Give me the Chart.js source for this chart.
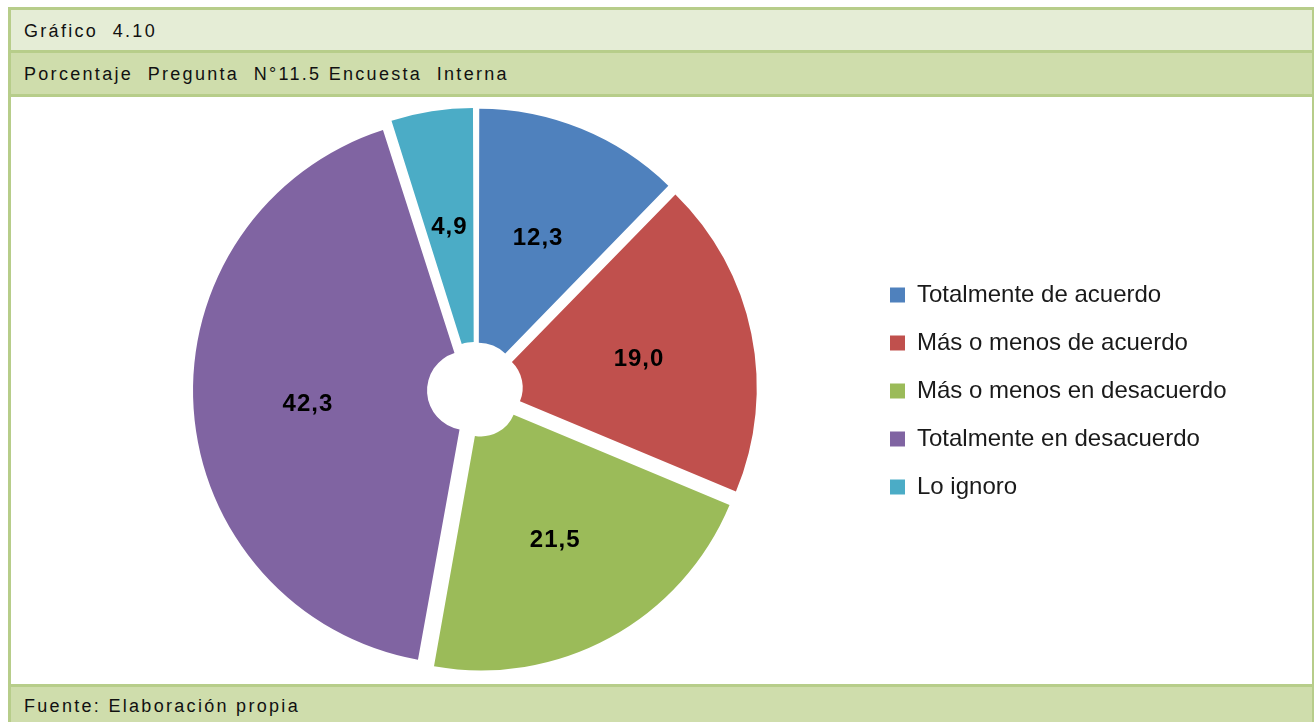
<!DOCTYPE html>
<html>
<head>
<meta charset="utf-8">
<script src="https://cdn.jsdelivr.net/npm/chart.js@4.4.1/dist/chart.umd.min.js"></script>
<style>
  html, body { margin: 0; padding: 0; background: #ffffff; width: 1314px; height: 722px; overflow: hidden; }
  #frame { position: absolute; left: 8px; top: 7px; width: 1306px; height: 715px; background: #b7cd8a; }
  .row { position: absolute; left: 3px; width: 1301px; font-family: "Liberation Sans", Arial, sans-serif; font-size: 18px; letter-spacing: 2.3px; color: #111; box-sizing: border-box; padding-left: 13px; white-space: pre; }
  #r1 { top: 3px; height: 40px; line-height: 42px; background: #e5edd6; }
  #r2 { top: 46px; height: 41px; line-height: 42px; background: #cfddac; }
  #chartBox { position: absolute; left: 3px; top: 90px; width: 1301px; height: 587px; background: #ffffff; }
  #foot { top: 680px; height: 35px; line-height: 38px; background: #cfddac; }
  canvas { display: block; }
</style>
</head>
<body>
<div id="frame">
  <div class="row" id="r1">Gráfico  4.10</div>
  <div class="row" id="r2">Porcentaje  Pregunta  N°11.5 Encuesta  Interna</div>
  <div id="chartBox"><canvas id="c" width="1301" height="587"></canvas></div>
  <div class="row" id="foot">Fuente: Elaboración propia</div>
</div>
<script>
const categories = [
  "Totalmente de acuerdo",
  "Más o menos de acuerdo",
  "Más o menos en desacuerdo",
  "Totalmente en desacuerdo",
  "Lo ignoro"
];
const values = [12.3, 19.0, 21.5, 42.3, 4.9];
const colors = ["#4f81bd", "#c0504d", "#9bbb59", "#8064a2", "#4bacc6"];

const EXPLODE = 13; // desired outward shift in px for every slice

// Chart.js arcs translate by offset/4 * (1 + (1 - sin(circumference))); invert that
function sliceCirc(i) {
  const total = values.reduce((a, b) => a + b, 0);
  return values[i] / total * Math.PI * 2;
}
function offsetFor(i) {
  const fix = 1 - Math.sin(Math.min(Math.PI, sliceCirc(i)));
  return EXPLODE * 4 / (1 + fix);
}

const legendWidthPlugin = {
  id: 'legendWidth',
  beforeInit(chart) {
    const lg = chart.legend;
    if (!lg) return;
    const origFit = lg.fit;
    lg.fit = function () {
      origFit.call(this);
      this.width = 446;
    };
  },
  afterLayout(chart) {
    if (chart.legend) { chart.legend.top += 1; chart.legend.bottom += 1; }
  }
};

const labelPlugin = {
  id: 'sliceLabels',
  afterDatasetsDraw(chart) {
    const ctx = chart.ctx;
    const meta = chart.getDatasetMeta(0);
    ctx.save();
    ctx.font = 'bold 24px "Liberation Sans", Arial, sans-serif';
    try { ctx.letterSpacing = '1px'; } catch (e) {}
    ctx.fillStyle = '#000000';
    ctx.textAlign = 'center';
    ctx.textBaseline = 'middle';
    meta.data.forEach((arc, i) => {
      const p = arc.getProps(['x', 'y', 'startAngle', 'endAngle', 'outerRadius'], true);
      const mid = (p.startAngle + p.endAngle) / 2;
      const r = EXPLODE + p.outerRadius * 0.574;
      const x = p.x + Math.cos(mid) * r;
      const y = p.y + Math.sin(mid) * r + 3;
      ctx.fillText(values[i].toFixed(1).replace('.', ','), x, y);
    });
    ctx.restore();
  }
};

new Chart(document.getElementById('c'), {
  type: 'doughnut',
  data: {
    labels: categories,
    datasets: [{
      data: values,
      backgroundColor: colors,
      borderWidth: 0,
      offset: (ctx) => offsetFor(ctx.dataIndex),
      hoverOffset: 0
    }]
  },
  options: {
    responsive: false,
    animation: false,
    radius: 269,
    cutout: '13%',
    layout: { padding: { left: 73, right: 0, top: 1, bottom: 2 } },
    plugins: {
      tooltip: { enabled: false },
      legend: {
        position: 'right',
        align: 'center',
        labels: {
          boxWidth: 15,
          boxHeight: 15,
          padding: 24,
          color: '#1a1a1a',
          font: { family: '"Liberation Sans", Arial, sans-serif', size: 24 }
        }
      }
    }
  },
  plugins: [legendWidthPlugin, labelPlugin]
});
</script>
</body>
</html>
